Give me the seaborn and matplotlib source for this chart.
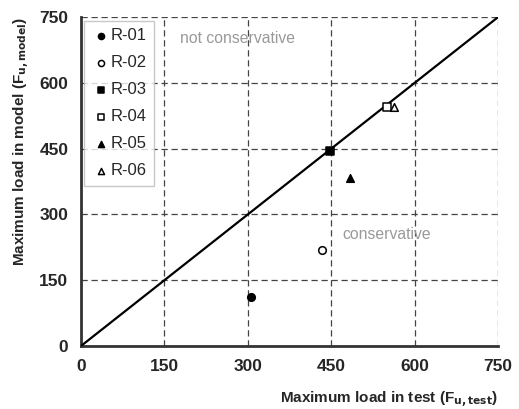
import pandas as pd
import seaborn as sns
import matplotlib.pyplot as plt

# data
specimens = ["R-01", "R-02", "R-03", "R-04", "R-05", "R-06"]
f_test = [306, 434, 448, 550, 484, 563]
f_model = [111, 220, 444, 544, 384, 544]
markers = ["o", "o", "s", "s", "^", "^"]
filled = [True, False, True, False, True, False]

ticks = [0, 150, 300, 450, 600, 750]

data = pd.DataFrame({"specimen": specimens, "test": f_test, "model": f_model})

sns.set_style("white")
plt.rcParams["font.family"] = ["Liberation Sans", "DejaVu Sans"]

fig = plt.figure(figsize=(5.19, 4.09), dpi=100)
ax = fig.add_axes([0.156, 0.154, 0.8035, 0.804])

# line of equality
sns.lineplot(x=[0, 750], y=[0, 750], color="black", linewidth=1.6, ax=ax, zorder=3)

for i, row in data.iterrows():
    sns.scatterplot(data=row.to_frame().T, x="test", y="model", marker=markers[i],
                    s=30, facecolor="black" if filled[i] else "white",
                    edgecolor="black", linewidth=1.1, label=row["specimen"],
                    ax=ax, zorder=4)

ax.set_xlim(0, 750)
ax.set_ylim(0, 750)
ax.set_xticks(ticks)
ax.set_yticks(ticks)
ax.tick_params(axis="both", labelsize=12.5, direction="out", length=4, width=1,
               color="#333333", pad=5)
for lab in ax.get_xticklabels() + ax.get_yticklabels():
    lab.set_fontweight("bold")

ax.grid(True, linestyle=(0, (5, 3)), color="#444444", linewidth=0.9)
for s in ["top", "right"]:
    ax.spines[s].set_visible(False)
for s in ["left", "bottom"]:
    ax.spines[s].set_color("#333333")
    ax.spines[s].set_linewidth(2)

ax.text(178, 690, "not conservative", color="#999999", fontsize=11.3)
ax.text(471, 245, "conservative", color="#999999", fontsize=11.3)

ax.set_xlabel(r"Maximum load in test (F$_{\mathbf{u,test}}$)", fontsize=11,
              fontweight="bold", loc="right", labelpad=12)
ax.set_ylabel(r"Maximum load in model (F$_{\mathbf{u,model}}$)", fontsize=11,
              fontweight="bold", loc="top", labelpad=5)

leg = ax.legend(loc="upper left", fontsize=12, frameon=True, fancybox=False,
                edgecolor="#bbbbbb", handletextpad=0.0, handlelength=1.1,
                labelspacing=0.72, borderpad=0.45, borderaxespad=0.2,
                markerscale=0.8)
leg.get_frame().set_linewidth(1)

fig.savefig("out.png", dpi=100)
